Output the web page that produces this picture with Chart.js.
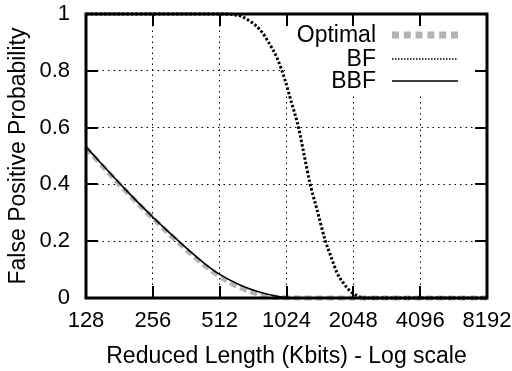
<!DOCTYPE html>
<html>
<head>
<meta charset="utf-8">
<script src="https://cdn.jsdelivr.net/npm/chart.js@4/dist/chart.umd.min.js"></script>
<style>
  body { margin: 0; background: #fff; }
  canvas { display: block; }
</style>
</head>
<body>
<canvas id="chart" width="512" height="371"></canvas>
<script>
// x ticks (Kbits, log2 spaced) and y ticks
const xTicks = [128, 256, 512, 1024, 2048, 4096, 8192];
const yTicks = [0, 0.2, 0.4, 0.6, 0.8, 1];
const yTickLabels = ['0', '0.2', '0.4', '0.6', '0.8', '1'];

const seriesNames = ['Optimal', 'BF', 'BBF'];

// values
const optimalX = [128, 190, 256, 319, 378, 435, 512, 632, 779, 1024, 1400, 2048, 8192];
const optimalY = [0.528, 0.383, 0.281, 0.21, 0.157, 0.117, 0.076, 0.037, 0.012, 0.001, 0, 0, 0];

const bfX = [128, 512, 600, 653, 779, 864, 929, 1008, 1080, 1158, 1230, 1306, 1410, 1528, 1620, 1726, 1850, 1982, 2128, 2300, 8192];
const bfY = [1, 1, 0.997, 0.989, 0.944, 0.891, 0.845, 0.768, 0.686, 0.603, 0.503, 0.404, 0.307, 0.204, 0.148, 0.09, 0.052, 0.024, 0.008, 0, 0];

const bbfX = [128, 190, 256, 319, 378, 435, 512, 632, 779, 1024, 1400, 2048, 8192];
const bbfY = [0.532, 0.387, 0.285, 0.215, 0.163, 0.123, 0.083, 0.046, 0.02, 0.0015, 0, 0, 0];

const FONT = 'Liberation Sans, Arial, sans-serif';
const pts = (xs, ys) => xs.map((x, i) => ({ x, y: ys[i] }));

const styles = {
  Optimal: { color: '#b3b3b3', width: 5, dash: [7, 4] },
  BF: { color: '#000', width: 3, dash: [2.5, 2] },
  BBF: { color: '#000', width: 1.6, dash: [] }
};

// opaque key box, then frame, inward ticks and key on top
const framePlugin = {
  id: 'frame',
  beforeDatasetsDraw(chart) {
    const ctx = chart.ctx;
    ctx.save();
    ctx.fillStyle = '#fff';
    ctx.fillRect(285, 15, 197, 79);
    ctx.restore();
  },
  afterDraw(chart) {
    const { ctx, chartArea: a, scales } = chart;
    ctx.save();
    ctx.setLineDash([]);
    ctx.strokeStyle = '#000';
    ctx.lineWidth = 3;
    ctx.beginPath();
    ctx.rect(a.left, a.top, a.right - a.left, a.bottom - a.top);
    ctx.stroke();
    // inward ticks on all four sides
    const tl = 12;
    ctx.lineWidth = 2;
    ctx.beginPath();
    xTicks.forEach(v => {
      const x = Math.round(scales.x.getPixelForValue(v));
      ctx.moveTo(x, a.bottom); ctx.lineTo(x, a.bottom - tl);
      ctx.moveTo(x, a.top); ctx.lineTo(x, a.top + tl);
    });
    yTicks.forEach(v => {
      const y = Math.round(scales.y.getPixelForValue(v));
      ctx.moveTo(a.left, y); ctx.lineTo(a.left + tl, y);
      ctx.moveTo(a.right, y); ctx.lineTo(a.right - tl, y);
    });
    ctx.stroke();

    // key
    ctx.font = '23px ' + FONT;
    ctx.textAlign = 'right';
    ctx.textBaseline = 'middle';
    const rows = [35, 59, 81];
    seriesNames.forEach((name, i) => {
      const s = styles[name];
      ctx.fillStyle = '#000';
      ctx.fillText(name, 376, rows[i] + 1);
      ctx.beginPath();
      ctx.strokeStyle = s.color;
      ctx.lineWidth = name === 'Optimal' ? 7 : 1.6;
      ctx.setLineDash(name === 'Optimal' ? [7, 4.8] : (name === 'BF' ? [1.5, 1.5] : []));
      ctx.moveTo(392, rows[i]);
      ctx.lineTo(458, rows[i]);
      ctx.stroke();
    });
    ctx.restore();
  }
};

const mk = (name, data) => ({
  label: name,
  data,
  borderColor: styles[name].color,
  borderWidth: styles[name].width,
  borderDash: styles[name].dash,
  borderCapStyle: 'butt',
  pointRadius: 0,
  fill: false,
  cubicInterpolationMode: 'monotone',
  clip: false
});

new Chart(document.getElementById('chart'), {
  type: 'line',
  data: {
    datasets: [
      mk('BBF', pts(bbfX, bbfY)),
      mk('BF', pts(bfX, bfY)),
      mk('Optimal', pts(optimalX, optimalY))
    ]
  },
  options: {
    responsive: false,
    animation: false,
    devicePixelRatio: 1,
    layout: { padding: { top: 14, right: 25, left: 0, bottom: 0 } },
    plugins: { legend: { display: false }, tooltip: { enabled: false } },
    scales: {
      x: {
        type: 'logarithmic',
        min: 128,
        max: 8192,
        afterBuildTicks: s => { s.ticks = xTicks.map(v => ({ value: v })); },
        afterFit: s => { s.height = 73; s.paddingLeft = 0; s.paddingRight = 0; },
        ticks: {
          color: '#000',
          font: { family: FONT, size: 22 },
          padding: 10,
          maxRotation: 0,
          autoSkip: false,
          callback: v => String(v)
        },
        grid: { color: '#000', lineWidth: 1, drawTicks: false },
        border: { display: false, dash: [1.5, 4] },
        title: {
          display: true,
          text: 'Reduced Length (Kbits) - Log scale',
          color: '#000',
          font: { family: FONT, size: 23 },
          padding: { top: 0, bottom: 1 }
        }
      },
      y: {
        min: 0,
        max: 1,
        afterBuildTicks: s => { s.ticks = yTicks.map(v => ({ value: v })); },
        afterFit: s => { s.width = 86; s.paddingTop = 0; s.paddingBottom = 0; },
        ticks: {
          color: '#000',
          font: { family: FONT, size: 22 },
          padding: 16,
          callback: (v, i) => yTickLabels[i]
        },
        grid: { color: '#000', lineWidth: 1, drawTicks: false },
        border: { display: false, dash: [1.5, 4] },
        title: {
          display: true,
          text: 'False Positive Probability',
          color: '#000',
          font: { family: FONT, size: 23 },
          padding: { top: 5, bottom: 0 }
        }
      }
    }
  },
  plugins: [framePlugin]
});
</script>
</body>
</html>
